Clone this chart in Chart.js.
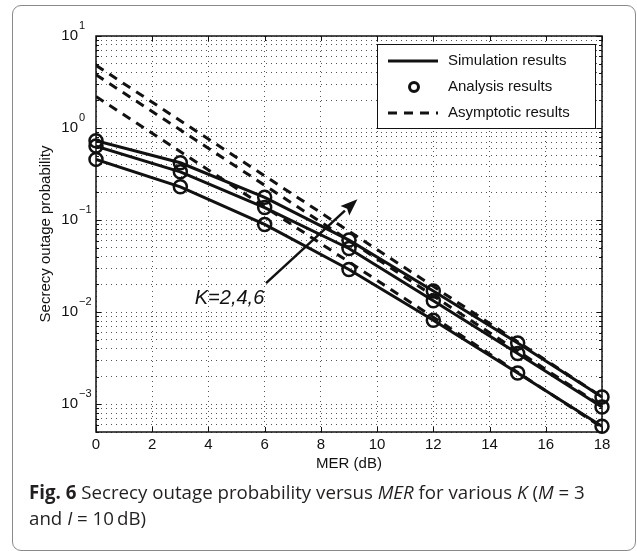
<!DOCTYPE html>
<html>
<head>
<meta charset="utf-8">
<script src="https://cdn.jsdelivr.net/npm/chart.js@4.4.0/dist/chart.umd.min.js"></script>
<style>
  html, body { margin: 0; padding: 0; background: #fff; }
  #wrap { position: relative; width: 637px; height: 551px; overflow: hidden; }
  #frame { position: absolute; left: 12px; top: 5px; width: 624px; height: 546px; border: 1.5px solid #8a8a8a; border-radius: 9px; box-sizing: border-box; }
  #chart { position: absolute; left: 0; top: 0; }
  #caption { position: absolute; left: 29px; top: 479px; font-family: 'Open Sans', sans-serif; font-size: 18.7px; line-height: 26px; color: #231f20; white-space: nowrap; }
</style>
</head>
<body>
<div id="wrap">
  <div id="frame"></div>
  <canvas id="chart" width="637" height="551"></canvas>
  <div id="caption"><b>Fig. 6</b> Secrecy outage probability versus <i>MER</i> for various <i>K</i> (<i>M</i> = 3<br>and <i>I</i> = 10&#8201;dB)</div>
</div>
<script>
// MER points (dB)
const merDb = [0, 3, 6, 9, 12, 15, 18];

// secrecy outage probability, simulation / analysis (they coincide)
const outageK2 = [0.457, 0.230, 0.0898, 0.0291, 0.00818, 0.00219, 0.000577];
const outageK4 = [0.637, 0.335, 0.137, 0.0492, 0.0133, 0.00356, 0.000935];
const outageK6 = [0.728, 0.420, 0.177, 0.0607, 0.0170, 0.00464, 0.00120];

// asymptotic lines (straight on log scale, only the end points)
const asymMer = [0, 18];
const asymK2 = [2.2, 0.00056];
const asymK4 = [3.8, 0.00095];
const asymK6 = [4.8, 0.0012];

// axes
const xTicks = [0, 2, 4, 6, 8, 10, 12, 14, 16, 18];
const yPowers = [-3, -2, -1, 0, 1];
const yMin = 5e-4, yMax = 10;

// annotation: arrow and label, in data units
const arrowFrom = { x: 6.05, y: 0.0207 };
const arrowTo = { x: 9.3, y: 0.169 };
const kLabel = { x: 4.75, y: 0.0142, text: 'K=2,4,6' };

const legendItems = ['Simulation results', 'Analysis results', 'Asymptotic results'];

const FONT = "'Liberation Sans', Arial, Helvetica, sans-serif";
const INK = '#111';
const LW = 3;

function pts(xs, ys) {
    return xs.map((x, i) => ({ x: x, y: ys[i] }));
}

// all log ticks (1..9 x 10^n) inside the range
function logTicks() {
    const out = [];
    for (let p = -4; p <= 1; p++) {
        for (let m = 1; m <= 9; m++) {
            const v = m * Math.pow(10, p);
            if (v >= yMin * 0.999 && v <= yMax * 1.001) out.push({ value: v });
        }
    }
    return out;
}

function simSet(ys) {
    return { data: pts(merDb, ys), borderColor: INK, borderWidth: LW, pointRadius: 0, tension: 0 };
}
function anaSet(ys) {
    return {
        data: pts(merDb, ys), showLine: false, pointRadius: 6.5, pointStyle: 'circle',
        pointBorderWidth: 2.5, pointBorderColor: INK, pointBackgroundColor: 'rgba(0,0,0,0)', clip: false
    };
}
function asymSet(ys) {
    return { data: pts(asymMer, ys), borderColor: INK, borderWidth: LW, borderDash: [9, 7], pointRadius: 0 };
}

const matlabAxes = {
    id: 'matlabAxes',
    afterDraw(chart) {
        const ctx = chart.ctx;
        const a = chart.chartArea;
        const xs = chart.scales.x, ys = chart.scales.y;
        ctx.save();

        // inward tick marks, all four sides
        ctx.strokeStyle = INK;
        ctx.lineWidth = 1;
        ctx.beginPath();
        xTicks.forEach(t => {
            const px = Math.round(xs.getPixelForValue(t)) + 0.5;
            ctx.moveTo(px, a.bottom); ctx.lineTo(px, a.bottom - 5);
            ctx.moveTo(px, a.top); ctx.lineTo(px, a.top + 5);
        });
        ys.ticks.forEach(t => {
            const py = Math.round(ys.getPixelForValue(t.value)) + 0.5;
            const major = Math.abs(Math.log10(t.value) - Math.round(Math.log10(t.value))) < 1e-6;
            const len = major ? 5 : 3;
            ctx.moveTo(a.left, py); ctx.lineTo(a.left + len, py);
            ctx.moveTo(a.right, py); ctx.lineTo(a.right - len, py);
        });
        ctx.stroke();

        // axes box
        ctx.lineWidth = 1.5;
        ctx.strokeRect(a.left, a.top, a.right - a.left, a.bottom - a.top);

        // y tick labels as 10^n
        ctx.fillStyle = INK;
        ctx.textBaseline = 'middle';
        yPowers.forEach(p => {
            const py = ys.getPixelForValue(Math.pow(10, p));
            ctx.font = '15px ' + FONT;
            ctx.textAlign = 'right';
            ctx.fillText('10', 78, py);
            ctx.font = '11px ' + FONT;
            ctx.textAlign = 'left';
            ctx.fillText(p < 0 ? '\u2212' + (-p) : String(p), 79, py - 10);
        });

        // arrow
        const x0 = xs.getPixelForValue(arrowFrom.x), y0 = ys.getPixelForValue(arrowFrom.y);
        const x1 = xs.getPixelForValue(arrowTo.x), y1 = ys.getPixelForValue(arrowTo.y);
        const ang = Math.atan2(y1 - y0, x1 - x0);
        const headLen = 17, headW = 6.5;
        const bx = x1 - headLen * Math.cos(ang), by = y1 - headLen * Math.sin(ang);
        ctx.lineWidth = 2.5;
        ctx.beginPath();
        ctx.moveTo(x0, y0); ctx.lineTo(bx, by);
        ctx.stroke();
        ctx.beginPath();
        ctx.moveTo(x1, y1);
        ctx.lineTo(bx + headW * Math.sin(ang), by - headW * Math.cos(ang));
        ctx.lineTo(bx + 3 * Math.cos(ang), by + 3 * Math.sin(ang));
        ctx.lineTo(bx - headW * Math.sin(ang), by + headW * Math.cos(ang));
        ctx.closePath();
        ctx.fill();

        // K label
        ctx.font = 'italic 20px ' + FONT;
        ctx.textAlign = 'center';
        ctx.fillText(kLabel.text, xs.getPixelForValue(kLabel.x), ys.getPixelForValue(kLabel.y));

        // legend box
        const lx = 377, ly = 44, lw = 218, lh = 84;
        ctx.fillStyle = '#fff';
        ctx.fillRect(lx, ly, lw, lh);
        ctx.lineWidth = 1;
        ctx.strokeStyle = INK;
        ctx.strokeRect(lx + 0.5, ly + 0.5, lw, lh);
        ctx.fillStyle = INK;
        ctx.font = '15px ' + FONT;
        ctx.textAlign = 'left';
        legendItems.forEach((label, i) => {
            const rowY = ly + 17 + i * 26;
            ctx.lineWidth = LW;
            ctx.beginPath();
            if (i === 0) {
                ctx.moveTo(388, rowY); ctx.lineTo(438, rowY); ctx.stroke();
            } else if (i === 1) {
                ctx.arc(414, rowY, 4.5, 0, Math.PI * 2); ctx.stroke();
            } else {
                ctx.setLineDash([9, 7]);
                ctx.moveTo(388, rowY); ctx.lineTo(438, rowY); ctx.stroke();
                ctx.setLineDash([]);
            }
            ctx.fillText(label, 448, rowY);
        });
        ctx.restore();
    }
};

new Chart(document.getElementById('chart'), {
    type: 'line',
    data: {
        datasets: [
            simSet(outageK2), simSet(outageK4), simSet(outageK6),
            anaSet(outageK2), anaSet(outageK4), anaSet(outageK6),
            asymSet(asymK2), asymSet(asymK4), asymSet(asymK6)
        ]
    },
    options: {
        responsive: false,
        animation: false,
        layout: { padding: { left: 37, right: 35, top: 36, bottom: 78 } },
        font: { family: FONT },
        plugins: { legend: { display: false }, tooltip: { enabled: false } },
        scales: {
            x: {
                type: 'linear', min: 0, max: 18,
                afterBuildTicks: s => { s.ticks = xTicks.map(v => ({ value: v })); },
                afterFit: s => { s.height = 41; },
                grid: { color: '#555', lineWidth: 1, drawTicks: false },
                border: { display: false, dash: [1, 4] },
                ticks: { padding: 4, color: INK, font: { family: FONT, size: 15 } },
                title: { display: true, text: 'MER (dB)', color: INK, padding: 0, font: { family: FONT, size: 15 } }
            },
            y: {
                type: 'logarithmic', min: yMin, max: yMax,
                afterBuildTicks: s => { s.ticks = logTicks(); },
                afterFit: s => { s.width = 59; },
                grid: { color: '#555', lineWidth: 1, drawTicks: false },
                border: { display: false, dash: [1, 4] },
                ticks: { display: false },
                title: { display: true, text: 'Secrecy outage probability', color: INK, padding: 0, font: { family: FONT, size: 15 } }
            }
        }
    },
    plugins: [matlabAxes]
});
</script>
</body>
</html>
